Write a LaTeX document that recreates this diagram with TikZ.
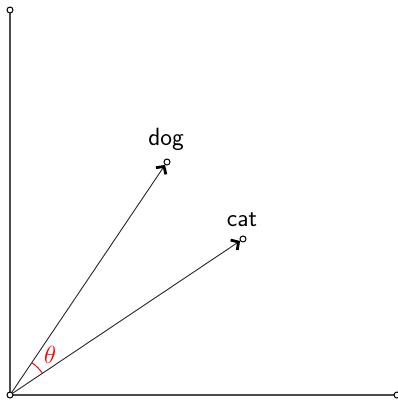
\documentclass[tikz,border=0pt]{standalone}
\usetikzlibrary{arrows.meta}
\begin{document}
\begin{tikzpicture}[x=1bp,y=-1bp,
  axis/.style={draw=black!70,line width=1.3bp},
  dot/.style={circle,draw=black,fill=white,line width=1bp,minimum size=6bp,inner sep=0pt},
  vec/.style={draw=black!85,line width=0.9bp,shorten >=3.5bp,-{Straight Barb[length=5.5bp,width=12bp,line width=2.8bp,black]}},
  lbl/.style={font=\sffamily\fontsize{25}{30}\selectfont,inner sep=0pt}]
\useasboundingbox (0,0) rectangle (398,400);
\coordinate (o) at (10,395);
\coordinate (top) at (10,10);
\coordinate (right) at (397,395);
\coordinate (d) at (167,162);
\coordinate (c) at (243,239);
\draw[axis] (top) -- (o) -- (right);
\draw[vec] (o) -- (d);
\draw[vec] (o) -- (c);
\node[dot] (otop) at (top) {};
\node[dot] (oright) at (right) {};
\node[dot] (oo) at (o) {};
\node[dot] (od) at (d) {};
\node[dot] (oc) at (c) {};
\node[lbl] (dog) at (166,139) {dog};
\node[lbl] (cat) at (242,220) {cat};
\draw[red,line width=1bp] (o) ++(-33.7:39) arc[start angle=-33.7,end angle=-56.1,radius=39];
\node[red,font=\fontsize{24}{28}\selectfont,inner sep=0pt] (theta) at (50,355) {$\theta$};
\end{tikzpicture}
\end{document}
